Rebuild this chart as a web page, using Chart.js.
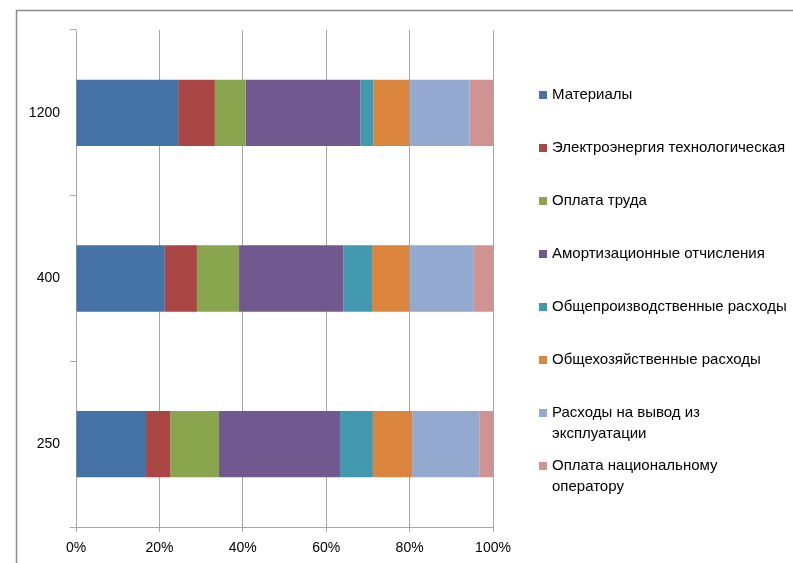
<!DOCTYPE html>
<html>
<head>
<meta charset="utf-8">
<script src="https://cdn.jsdelivr.net/npm/chart.js@4/dist/chart.umd.min.js"></script>
<style>
  html, body { margin: 0; padding: 0; background: #fff; }
  #wrap { position: relative; width: 793px; height: 563px; }
</style>
</head>
<body>
<div id="wrap"><canvas id="c" width="793" height="563"></canvas></div>
<script>
// Capacity variants (MW), listed top to bottom
const categories = ['1200', '400', '250'];

// Cost structure shares, % of total
const materials     = [24.5, 21.3, 16.8];
const electricity   = [8.8, 7.7, 5.8];
const labour        = [7.4, 10.1, 11.7];
const depreciation  = [27.5, 25.0, 29.0];
const prodOverhead  = [3.1, 6.9, 7.9];
const adminOverhead = [8.6, 8.9, 9.4];
const decommission  = [14.5, 15.5, 16.1];
const nationalOp    = [5.6, 4.6, 3.3];

// Legend names (multi-line where they wrap)
const seriesNames = [
  ['Материалы'],
  ['Электроэнергия технологическая'],
  ['Оплата труда'],
  ['Амортизационные отчисления'],
  ['Общепроизводственные расходы'],
  ['Общехозяйственные расходы'],
  ['Расходы на вывод из', 'эксплуатации'],
  ['Оплата национальному', 'оператору']
];
const seriesValues = [materials, electricity, labour, depreciation,
                      prodOverhead, adminOverhead, decommission, nationalOp];
const seriesColors = ['#4572A7', '#AA4643', '#89A54E', '#71588F',
                      '#4198AF', '#DB843D', '#93A9CF', '#D19392'];

const xTicks = [0, 20, 40, 60, 80, 100];

const FONT = '"Liberation Sans", Arial, sans-serif';
const AXIS_GREY = '#a6a6a6';

// Outer chart frame
const framePlugin = {
  id: 'frame',
  beforeDraw(chart) {
    const ctx = chart.ctx;
    ctx.save();
    ctx.strokeStyle = '#8c8c8c';
    ctx.lineWidth = 1.5;
    ctx.strokeRect(16.5, 10.5, 900, 700);
    ctx.restore();
  }
};

// Legend on the right, one entry every 53px
const sideLegend = {
  id: 'sideLegend',
  afterDraw(chart) {
    const ctx = chart.ctx;
    ctx.save();
    ctx.font = '15px ' + FONT;
    ctx.textBaseline = 'middle';
    ctx.textAlign = 'left';
    chart.data.datasets.forEach((ds, i) => {
      const y = 95 + 53 * i;
      ctx.fillStyle = ds.backgroundColor;
      ctx.fillRect(539, y - 4, 8, 8);
      ctx.fillStyle = '#000';
      ds.legendLines.forEach((line, k) => {
        ctx.fillText(line, 552, y + k * 21);
      });
    });
    ctx.restore();
  }
};

new Chart(document.getElementById('c'), {
  type: 'bar',
  data: {
    labels: categories,
    datasets: seriesValues.map((vals, i) => ({
      label: seriesNames[i].join(' '),
      legendLines: seriesNames[i],
      data: vals,
      backgroundColor: seriesColors[i],
      borderWidth: 0,
      barPercentage: 0.4,
      categoryPercentage: 1.0
    }))
  },
  options: {
    indexAxis: 'y',
    responsive: false,
    animation: false,
    devicePixelRatio: 1,
    layout: { padding: { top: 30, right: 300, bottom: 0, left: 0 } },
    plugins: { legend: { display: false }, tooltip: { enabled: false } },
    scales: {
      x: {
        stacked: true,
        min: 0,
        max: 100,
        afterBuildTicks(scale) { scale.ticks = xTicks.map(v => ({ value: v })); },
        afterFit(scale) { scale.height = 36; },
        grid: { color: AXIS_GREY, lineWidth: 1, tickLength: 5, drawTicks: true },
        border: { color: AXIS_GREY, width: 1 },
        ticks: {
          padding: 8,
          color: '#000',
          font: { family: FONT, size: 14 },
          callback: v => v + '%'
        }
      },
      y: {
        stacked: true,
        afterFit(scale) { scale.width = 76; },
        grid: { display: true, drawOnChartArea: false, offset: true, tickLength: 6, color: AXIS_GREY },
        border: { color: AXIS_GREY, width: 1 },
        ticks: {
          padding: 10,
          color: '#000',
          font: { family: FONT, size: 14 }
        }
      }
    }
  },
  plugins: [framePlugin, sideLegend]
});
</script>
</body>
</html>
